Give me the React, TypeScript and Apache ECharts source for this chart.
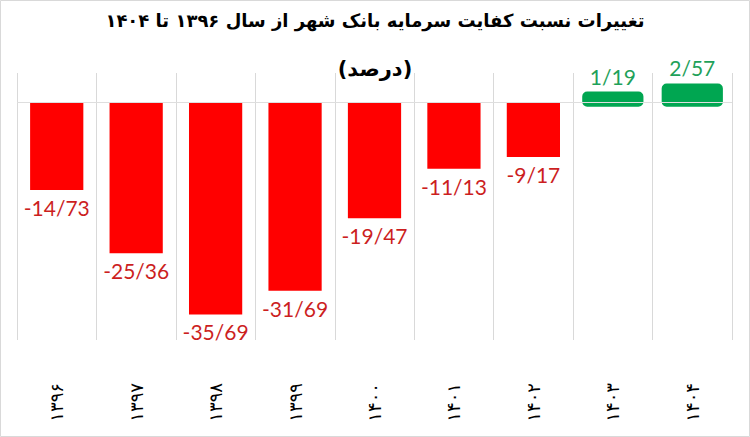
import React, { useEffect, useRef } from "react";
import * as echarts from "echarts";

const categories = ["۱۳۹۶", "۱۳۹۷", "۱۳۹۸", "۱۳۹۹", "۱۴۰۰", "۱۴۰۱", "۱۴۰۲", "۱۴۰۳", "۱۴۰۴"];
const values = [-14.73, -25.36, -35.69, -31.69, -19.47, -11.13, -9.17, 1.19, 2.57];
const titleText = "تغییرات نسبت کفایت سرمایه بانک شهر از سال ۱۳۹۶ تا ۱۴۰۴";
const subtitleText = "(درصد)";

const negValues = values.map((v) => (v < 0 ? v : "-"));
const posData = values
  .map((v, i) => (v >= 0 ? [i, v] : null))
  .filter((d) => d !== null) as number[][];

const fmtVal = (v: number) => Number(v).toFixed(2).replace(".", "/");

export default function App() {
  const ref = useRef<HTMLDivElement>(null);
  useEffect(() => {
    const chart = echarts.init(ref.current!, undefined, { renderer: "svg" });
    chart.setOption({
      animation: false,
      backgroundColor: "#ffffff",
      title: [
        {
          text: titleText,
          left: "center",
          top: 6,
          textStyle: { fontFamily: "DejaVu Sans", fontWeight: "bold", fontSize: 18, color: "#000" },
        },
        {
          text: subtitleText,
          left: "center",
          top: 53,
          textStyle: { fontFamily: "DejaVu Sans", fontWeight: "bold", fontSize: 21, color: "#000" },
        },
      ],
      graphic: [
        {
          type: "rect",
          shape: { x: 0.5, y: 0.5, width: 749, height: 436 },
          style: { fill: "none", stroke: "#d9d9d9", lineWidth: 1 },
          silent: true,
        },
      ],
      grid: { left: 17, right: 18, top: 73, bottom: 97 },
      xAxis: {
        type: "category",
        data: categories,
        axisLine: { show: false, onZero: false },
        axisTick: { show: false },
        splitLine: { show: true, lineStyle: { color: "#d9d9d9", width: 1 } },
        axisLabel: {
          rotate: 90,
          margin: 43,
          fontFamily: "DejaVu Sans",
          fontSize: 18,
          color: "#000",
        },
      },
      yAxis: {
        type: "value",
        min: -40,
        max: 5,
        show: false,
        splitLine: { show: false },
      },
      series: [
        {
          type: "bar",
          data: negValues,
          barWidth: "67%",
          z: 3,
          itemStyle: { color: "#ff0000" },
          label: {
            show: true,
            position: "bottom",
            distance: 7,
            formatter: (p: any) => fmtVal(p.value),
            fontFamily: "Lato",
            fontSize: 21,
            color: "#cc1f1f",
          },
          markLine: {
            silent: true,
            symbol: "none",
            z: 10,
            label: { show: false },
            lineStyle: { color: "#dedede", type: "solid", width: 1 },
            data: [{ yAxis: 0 }],
          },
        },
        {
          type: "custom",
          z: 2,
          data: posData,
          encode: { x: 0, y: 1 },
          renderItem: (params: any, api: any) => {
            const idx = api.value(0);
            const val = api.value(1);
            const top = api.coord([idx, val]);
            const zero = api.coord([idx, 0]);
            const bw = api.size([1, 0])[0] * 0.67 + 8;
            const y1 = top[1] - 4;
            const y2 = zero[1] + 4;
            return {
              type: "rect",
              shape: { x: top[0] - bw / 2, y: y1, width: bw, height: y2 - y1, r: 5 },
              style: { fill: "#00a651" },
              textContent: {
                style: {
                  text: fmtVal(val),
                  fontFamily: "Lato",
                  fontSize: 21,
                  fill: "#1fa15a",
                },
              },
              textConfig: { position: "top", distance: 5 },
            };
          },
        },
      ],
    });
    return () => chart.dispose();
  }, []);
  return (
    <div
      ref={ref}
      style={{ position: "fixed", left: 0, top: 0, width: 750, height: 437 }}
    />
  );
}
